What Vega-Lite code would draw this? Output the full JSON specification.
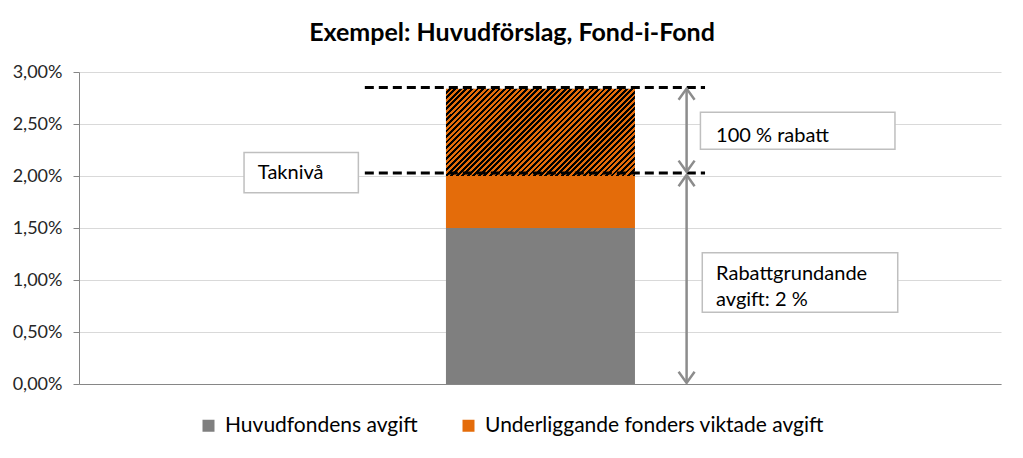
{
  "$schema": "https://vega.github.io/schema/vega-lite/v6.json",
  "width": 922,
  "height": 312,
  "autosize": "none",
  "padding": {"left": 79, "top": 72, "right": 22, "bottom": 74},
  "background": "white",
  "config": {"view": {"stroke": null}, "font": "Lato"},
  "title": {"text": "Exempel: Huvudförslag, Fond-i-Fond", "font": "Lato", "fontSize": 25, "fontWeight": "bold", "color": "#000", "anchor": "middle", "dx": -28, "offset": 17},
  "datasets": {
    "avgifter": [
      {"serie": "Huvudfondens avgift", "fran": 0, "till": 1.5},
      {"serie": "Underliggande fonders viktade avgift", "fran": 1.5, "till": 2.0}
    ],
    "rabatt": [{"serie": "100 % rabatt", "fran": 2.0, "till": 2.84}],
    "nivaer": [{"niva": "Taknivå", "y": 2.03}, {"niva": "Maxavgift", "y": 2.85}],
    "pilar": [
      {"pil": "100 % rabatt", "topp": 2.84, "botten": 2.04},
      {"pil": "Rabattgrundande avgift", "topp": 2.01, "botten": 0.01}
    ]
  },
  "layer": [
    {
      "data": {"name": "avgifter"},
      "mark": {"type": "bar"},
      "encoding": {
        "x": {"datum": 39.8, "type": "quantitative", "scale": {"domain": [0, 100], "nice": false}, "axis": {"labels": false, "ticks": false, "grid": false, "title": null, "domainColor": "#868686", "domainWidth": 1}},
        "x2": {"datum": 60.3},
        "y": {"field": "fran", "type": "quantitative", "scale": {"domain": [0, 3], "nice": false},
          "axis": {"values": [0, 0.5, 1, 1.5, 2, 2.5, 3], "labelExpr": "replace(format(datum.value, '.2f'), '.', ',') + '%'", "title": null, "grid": true, "gridColor": "#d9d9d9", "domainColor": "#868686", "tickColor": "#868686", "tickSize": 6, "labelPadding": 11, "labelFont": "Lato", "labelFontSize": 18, "labelColor": "#262626"}},
        "y2": {"field": "till"},
        "color": {"field": "serie", "type": "nominal",
          "scale": {"domain": ["Huvudfondens avgift", "Underliggande fonders viktade avgift"], "range": ["#7F7F7F", "#E46C0A"]},
          "legend": {"title": null, "orient": "none", "legendX": 119, "legendY": 343, "direction": "horizontal", "symbolType": "square", "symbolSize": 144, "symbolStrokeWidth": 0, "symbolOpacity": 1, "labelFont": "Lato", "labelFontSize": 21, "labelColor": "#000", "labelOffset": 6, "labelLimit": 500, "columnPadding": 40, "padding": 0}}
      }
    },
    {
      "data": {"name": "rabatt"},
      "mark": {"type": "bar", "fill": {"gradient": "linear", "x1": 0, "y1": 0, "x2": 1.205, "y2": 0.557, "stops": [
        {"offset":0,"color":"#E46C0A"},
        {"offset":0.01,"color":"#E46C0A"},{"offset":0.01,"color":"#000"},{"offset":0.02,"color":"#000"},{"offset":0.02,"color":"#E46C0A"},
        {"offset":0.03,"color":"#E46C0A"},{"offset":0.03,"color":"#000"},{"offset":0.04,"color":"#000"},{"offset":0.04,"color":"#E46C0A"},
        {"offset":0.05,"color":"#E46C0A"},{"offset":0.05,"color":"#000"},{"offset":0.06,"color":"#000"},{"offset":0.06,"color":"#E46C0A"},
        {"offset":0.07,"color":"#E46C0A"},{"offset":0.07,"color":"#000"},{"offset":0.08,"color":"#000"},{"offset":0.08,"color":"#E46C0A"},
        {"offset":0.09,"color":"#E46C0A"},{"offset":0.09,"color":"#000"},{"offset":0.10,"color":"#000"},{"offset":0.10,"color":"#E46C0A"},
        {"offset":0.11,"color":"#E46C0A"},{"offset":0.11,"color":"#000"},{"offset":0.12,"color":"#000"},{"offset":0.12,"color":"#E46C0A"},
        {"offset":0.13,"color":"#E46C0A"},{"offset":0.13,"color":"#000"},{"offset":0.14,"color":"#000"},{"offset":0.14,"color":"#E46C0A"},
        {"offset":0.15,"color":"#E46C0A"},{"offset":0.15,"color":"#000"},{"offset":0.16,"color":"#000"},{"offset":0.16,"color":"#E46C0A"},
        {"offset":0.17,"color":"#E46C0A"},{"offset":0.17,"color":"#000"},{"offset":0.18,"color":"#000"},{"offset":0.18,"color":"#E46C0A"},
        {"offset":0.19,"color":"#E46C0A"},{"offset":0.19,"color":"#000"},{"offset":0.20,"color":"#000"},{"offset":0.20,"color":"#E46C0A"},
        {"offset":0.21,"color":"#E46C0A"},{"offset":0.21,"color":"#000"},{"offset":0.22,"color":"#000"},{"offset":0.22,"color":"#E46C0A"},
        {"offset":0.23,"color":"#E46C0A"},{"offset":0.23,"color":"#000"},{"offset":0.24,"color":"#000"},{"offset":0.24,"color":"#E46C0A"},
        {"offset":0.25,"color":"#E46C0A"},{"offset":0.25,"color":"#000"},{"offset":0.26,"color":"#000"},{"offset":0.26,"color":"#E46C0A"},
        {"offset":0.27,"color":"#E46C0A"},{"offset":0.27,"color":"#000"},{"offset":0.28,"color":"#000"},{"offset":0.28,"color":"#E46C0A"},
        {"offset":0.29,"color":"#E46C0A"},{"offset":0.29,"color":"#000"},{"offset":0.30,"color":"#000"},{"offset":0.30,"color":"#E46C0A"},
        {"offset":0.31,"color":"#E46C0A"},{"offset":0.31,"color":"#000"},{"offset":0.32,"color":"#000"},{"offset":0.32,"color":"#E46C0A"},
        {"offset":0.33,"color":"#E46C0A"},{"offset":0.33,"color":"#000"},{"offset":0.34,"color":"#000"},{"offset":0.34,"color":"#E46C0A"},
        {"offset":0.35,"color":"#E46C0A"},{"offset":0.35,"color":"#000"},{"offset":0.36,"color":"#000"},{"offset":0.36,"color":"#E46C0A"},
        {"offset":0.37,"color":"#E46C0A"},{"offset":0.37,"color":"#000"},{"offset":0.38,"color":"#000"},{"offset":0.38,"color":"#E46C0A"},
        {"offset":0.39,"color":"#E46C0A"},{"offset":0.39,"color":"#000"},{"offset":0.40,"color":"#000"},{"offset":0.40,"color":"#E46C0A"},
        {"offset":0.41,"color":"#E46C0A"},{"offset":0.41,"color":"#000"},{"offset":0.42,"color":"#000"},{"offset":0.42,"color":"#E46C0A"},
        {"offset":0.43,"color":"#E46C0A"},{"offset":0.43,"color":"#000"},{"offset":0.44,"color":"#000"},{"offset":0.44,"color":"#E46C0A"},
        {"offset":0.45,"color":"#E46C0A"},{"offset":0.45,"color":"#000"},{"offset":0.46,"color":"#000"},{"offset":0.46,"color":"#E46C0A"},
        {"offset":0.47,"color":"#E46C0A"},{"offset":0.47,"color":"#000"},{"offset":0.48,"color":"#000"},{"offset":0.48,"color":"#E46C0A"},
        {"offset":0.49,"color":"#E46C0A"},{"offset":0.49,"color":"#000"},{"offset":0.50,"color":"#000"},{"offset":0.50,"color":"#E46C0A"},
        {"offset":0.51,"color":"#E46C0A"},{"offset":0.51,"color":"#000"},{"offset":0.52,"color":"#000"},{"offset":0.52,"color":"#E46C0A"},
        {"offset":0.53,"color":"#E46C0A"},{"offset":0.53,"color":"#000"},{"offset":0.54,"color":"#000"},{"offset":0.54,"color":"#E46C0A"},
        {"offset":0.55,"color":"#E46C0A"},{"offset":0.55,"color":"#000"},{"offset":0.56,"color":"#000"},{"offset":0.56,"color":"#E46C0A"},
        {"offset":0.57,"color":"#E46C0A"},{"offset":0.57,"color":"#000"},{"offset":0.58,"color":"#000"},{"offset":0.58,"color":"#E46C0A"},
        {"offset":0.59,"color":"#E46C0A"},{"offset":0.59,"color":"#000"},{"offset":0.60,"color":"#000"},{"offset":0.60,"color":"#E46C0A"},
        {"offset":0.61,"color":"#E46C0A"},{"offset":0.61,"color":"#000"},{"offset":0.62,"color":"#000"},{"offset":0.62,"color":"#E46C0A"},
        {"offset":0.63,"color":"#E46C0A"},{"offset":0.63,"color":"#000"},{"offset":0.64,"color":"#000"},{"offset":0.64,"color":"#E46C0A"},
        {"offset":0.65,"color":"#E46C0A"},{"offset":0.65,"color":"#000"},{"offset":0.66,"color":"#000"},{"offset":0.66,"color":"#E46C0A"},
        {"offset":0.67,"color":"#E46C0A"},{"offset":0.67,"color":"#000"},{"offset":0.68,"color":"#000"},{"offset":0.68,"color":"#E46C0A"},
        {"offset":0.69,"color":"#E46C0A"},{"offset":0.69,"color":"#000"},{"offset":0.70,"color":"#000"},{"offset":0.70,"color":"#E46C0A"},
        {"offset":0.71,"color":"#E46C0A"},{"offset":0.71,"color":"#000"},{"offset":0.72,"color":"#000"},{"offset":0.72,"color":"#E46C0A"},
        {"offset":0.73,"color":"#E46C0A"},{"offset":0.73,"color":"#000"},{"offset":0.74,"color":"#000"},{"offset":0.74,"color":"#E46C0A"},
        {"offset":0.75,"color":"#E46C0A"},{"offset":0.75,"color":"#000"},{"offset":0.76,"color":"#000"},{"offset":0.76,"color":"#E46C0A"},
        {"offset":0.77,"color":"#E46C0A"},{"offset":0.77,"color":"#000"},{"offset":0.78,"color":"#000"},{"offset":0.78,"color":"#E46C0A"},
        {"offset":0.79,"color":"#E46C0A"},{"offset":0.79,"color":"#000"},{"offset":0.80,"color":"#000"},{"offset":0.80,"color":"#E46C0A"},
        {"offset":0.81,"color":"#E46C0A"},{"offset":0.81,"color":"#000"},{"offset":0.82,"color":"#000"},{"offset":0.82,"color":"#E46C0A"},
        {"offset":0.83,"color":"#E46C0A"},{"offset":0.83,"color":"#000"},{"offset":0.84,"color":"#000"},{"offset":0.84,"color":"#E46C0A"},
        {"offset":0.85,"color":"#E46C0A"},{"offset":0.85,"color":"#000"},{"offset":0.86,"color":"#000"},{"offset":0.86,"color":"#E46C0A"},
        {"offset":0.87,"color":"#E46C0A"},{"offset":0.87,"color":"#000"},{"offset":0.88,"color":"#000"},{"offset":0.88,"color":"#E46C0A"},
        {"offset":0.89,"color":"#E46C0A"},{"offset":0.89,"color":"#000"},{"offset":0.90,"color":"#000"},{"offset":0.90,"color":"#E46C0A"},
        {"offset":0.91,"color":"#E46C0A"},{"offset":0.91,"color":"#000"},{"offset":0.92,"color":"#000"},{"offset":0.92,"color":"#E46C0A"},
        {"offset":0.93,"color":"#E46C0A"},{"offset":0.93,"color":"#000"},{"offset":0.94,"color":"#000"},{"offset":0.94,"color":"#E46C0A"},
        {"offset":0.95,"color":"#E46C0A"},{"offset":0.95,"color":"#000"},{"offset":0.96,"color":"#000"},{"offset":0.96,"color":"#E46C0A"},
        {"offset":0.97,"color":"#E46C0A"},{"offset":0.97,"color":"#000"},{"offset":0.98,"color":"#000"},{"offset":0.98,"color":"#E46C0A"},
        {"offset":0.99,"color":"#E46C0A"},{"offset":0.99,"color":"#000"},{"offset":1,"color":"#000"}
      ]}},
      "encoding": {
        "x": {"datum": 39.8},
        "x2": {"datum": 60.3},
        "y": {"field": "fran", "type": "quantitative"},
        "y2": {"field": "till"}
      }
    },
    {
      "data": {"values": [{"text": "Taknivå"}]},
      "layer": [
        {"mark": {"type": "rect", "fill": "white", "stroke": "#bfbfbf", "strokeWidth": 1.5},
         "encoding": {"x": {"datum": 17.9}, "x2": {"datum": 30.3}, "y": {"datum": 2.225}, "y2": {"datum": 1.84}}},
        {"mark": {"type": "text", "align": "left", "baseline": "middle", "font": "Lato", "fontSize": 20, "color": "#000"},
         "encoding": {"x": {"datum": 19.4}, "y": {"datum": 2.025}, "text": {"field": "text"}}}
      ]
    },
    {
      "data": {"values": [{"text": "100 % rabatt"}]},
      "layer": [
        {"mark": {"type": "rect", "fill": "white", "stroke": "#bfbfbf", "strokeWidth": 1.5},
         "encoding": {"x": {"datum": 67.4}, "x2": {"datum": 88.5}, "y": {"datum": 2.612}, "y2": {"datum": 2.257}}},
        {"mark": {"type": "text", "align": "left", "baseline": "middle", "font": "Lato", "fontSize": 20, "color": "#000"},
         "encoding": {"x": {"datum": 69.1}, "y": {"datum": 2.38}, "text": {"field": "text"}}}
      ]
    },
    {
      "data": {"values": [{"text": ["Rabattgrundande", "avgift: 2 %"]}]},
      "layer": [
        {"mark": {"type": "rect", "fill": "white", "stroke": "#bfbfbf", "strokeWidth": 1.5},
         "encoding": {"x": {"datum": 67.6}, "x2": {"datum": 88.8}, "y": {"datum": 1.2625}, "y2": {"datum": 0.689}}},
        {"mark": {"type": "text", "align": "left", "baseline": "middle", "font": "Lato", "fontSize": 20, "color": "#000", "lineHeight": 26},
         "encoding": {"x": {"datum": 69.1}, "y": {"datum": 1.055}, "text": {"field": "text"}}}
      ]
    },
    {
      "data": {"name": "nivaer"},
      "mark": {"type": "rule", "color": "#000", "strokeWidth": 3, "strokeDash": [9, 5]},
      "encoding": {"x": {"datum": 31.0}, "x2": {"datum": 67.9}, "y": {"field": "y", "type": "quantitative"}}
    },
    {
      "data": {"name": "pilar"},
      "layer": [
        {"mark": {"type": "rule", "color": "#8c8c8c", "strokeWidth": 2.5},
         "encoding": {"x": {"datum": 65.9}, "y": {"field": "topp", "type": "quantitative"}, "y2": {"field": "botten"}}},
        {"mark": {"type": "point", "shape": "M-1,1.4L0,0L1,1.4", "filled": false, "stroke": "#8c8c8c", "strokeWidth": 2.5, "size": 256, "opacity": 1},
         "encoding": {"x": {"datum": 65.9}, "y": {"field": "topp", "type": "quantitative"}}},
        {"mark": {"type": "point", "shape": "M-1,-1.4L0,0L1,-1.4", "filled": false, "stroke": "#8c8c8c", "strokeWidth": 2.5, "size": 256, "opacity": 1},
         "encoding": {"x": {"datum": 65.9}, "y": {"field": "botten", "type": "quantitative"}}}
      ]
    }
  ]
}
